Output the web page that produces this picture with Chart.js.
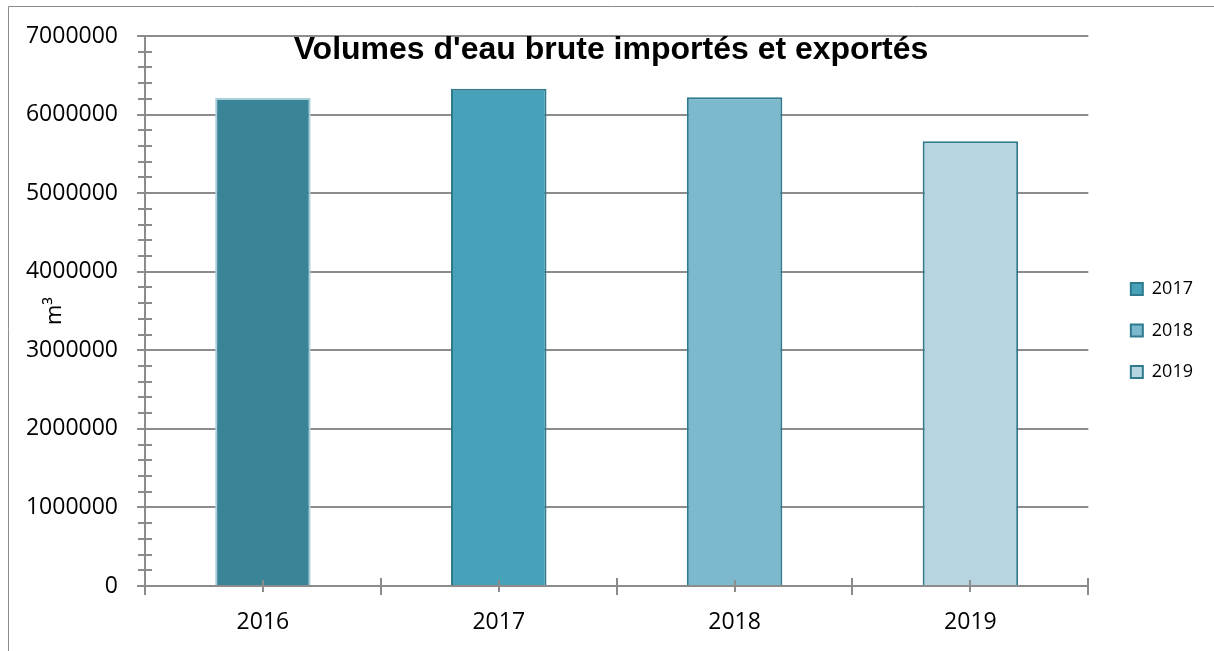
<!DOCTYPE html>
<html>
<head>
<meta charset="utf-8">
<title>Volumes d'eau brute importés et exportés</title>
<style>
  html, body { margin: 0; padding: 0; background: #ffffff; }
  #wrap { position: relative; width: 1214px; height: 651px; }
</style>
</head>
<body>
<div id="wrap"><canvas id="volumes"></canvas></div>
<script src="https://cdn.jsdelivr.net/npm/chart.js@4.4.0/dist/chart.umd.min.js"></script>
<script>
/* --------------- Data --------------------- */
const years = ["2016", "2017", "2018", "2019"];
const volumes = [6210000, 6330000, 6220000, 5660000];
const barColors = ["#3a8497", "#47a1b9", "#7cb9cf", "#b7d5e0"];
const barBorders = ["#a9d0da", "#2f7b8d", "#2f7b8d", "#2f7b8d"];
// the legend of the original only lists three entries
const legendYears = ["2017", "2018", "2019"];
const legendColors = ["#47a1b9", "#7cb9cf", "#b7d5e0"];
const yMax = 7000000;
const yMajor = 1000000;
const yMinor = 200000;

const gray = "#8c8c8c";
const isMajor = (v) => Math.round(v) % yMajor === 0;

/* --------------- Frame, title and tick marks --------------------- */
const excelLook = {
  id: "excelLook",
  afterLayout(chart) {
    // legend sits a bit further from the plot (and higher) than Chart.js puts it
    const lg = chart.legend;
    const w = lg.width;
    lg.left = chart.chartArea.right + 19;
    lg.right = lg.left + w;
    lg.top -= 13;
    lg.bottom -= 13;
  },
  beforeDraw(chart) {
    const ctx = chart.ctx;
    ctx.save();
    ctx.strokeStyle = gray;
    ctx.lineWidth = 1;
    ctx.beginPath();
    ctx.moveTo(8.5, chart.height);
    ctx.lineTo(8.5, 6.5);
    ctx.lineTo(chart.width, 6.5);
    ctx.stroke();
    ctx.restore();
  },
  afterDraw(chart) {
    const ctx = chart.ctx;
    const x = chart.scales.x;
    const y = chart.scales.y;
    const area = chart.chartArea;
    ctx.save();
    ctx.strokeStyle = gray;
    ctx.lineWidth = 2;
    ctx.beginPath();
    // minor ticks across the value axis
    y.ticks.forEach((t) => {
      if (isMajor(t.value)) return;
      const py = Math.round(y.getPixelForValue(t.value));
      ctx.moveTo(area.left - 7, py);
      ctx.lineTo(area.left + 7, py);
    });
    // category ticks: short ones at the centres, longer ones at the borders
    const step = (x.right - x.left) / years.length;
    years.forEach((_, i) => {
      const px = Math.round(x.getPixelForValue(i));
      ctx.moveTo(px, area.bottom - 6);
      ctx.lineTo(px, area.bottom + 6);
    });
    for (let i = 0; i <= years.length; i++) {
      const px = Math.round(x.left + i * step);
      ctx.moveTo(px, area.bottom - (i === 0 ? 0 : 8));
      ctx.lineTo(px, area.bottom + 9);
    }
    ctx.stroke();

    // title overlays the plot, like in the spreadsheet
    ctx.fillStyle = "#000000";
    ctx.font = "bold 32px 'Liberation Sans', Arial, sans-serif";
    ctx.textAlign = "center";
    ctx.textBaseline = "alphabetic";
    ctx.fillText("Volumes d'eau brute importés et exportés", 611, 59);
    ctx.restore();
  },
};

/* --------------- Chart --------------------- */
const volumeChart = new Chart(document.getElementById("volumes"), {
  type: "bar",
  plugins: [excelLook],
  data: {
    labels: years,
    datasets: [
      {
        data: volumes,
        backgroundColor: barColors,
        borderColor: barBorders,
        borderWidth: 2,
        categoryPercentage: 1,
        barPercentage: 0.405,
      },
    ],
  },
  options: {
    responsive: true,
    maintainAspectRatio: false,
    animation: false,
    layout: { padding: { top: 36, left: 8, right: 30, bottom: 0 } },
    scales: {
      x: {
        grid: { display: false, drawTicks: false },
        border: { display: true, color: gray, width: 2 },
        ticks: {
          color: "#000000",
          padding: 23,
          font: { family: "'Open Sans'", size: 23 },
        },
        afterFit(scale) {
          scale.height = 65;
        },
      },
      y: {
        min: 0,
        max: yMax,
        grid: {
          color: (c) => (isMajor(c.tick.value) ? gray : "rgba(0,0,0,0)"),
          lineWidth: 2,
          tickLength: 8,
        },
        border: { display: true, color: gray, width: 2 },
        ticks: {
          stepSize: yMinor,
          autoSkip: false,
          color: "#000000",
          padding: 19,
          font: { family: "'Open Sans'", size: 23 },
          callback: (v) => (isMajor(v) ? String(Math.round(v)) : ""),
        },
        title: {
          display: true,
          text: "m³",
          color: "#000000",
          padding: { top: 34, bottom: 0 },
          font: { family: "'Open Sans'", size: 22 },
        },
        afterFit(scale) {
          scale.width = 137;
        },
      },
    },
    plugins: {
      tooltip: { enabled: false },
      legend: {
        position: "right",
        labels: {
          boxWidth: 12,
          boxHeight: 12,
          padding: 23.5,
          color: "#000000",
          font: { family: "'Open Sans'", size: 18 },
          generateLabels: () =>
            legendYears.map((year, i) => ({
              text: year,
              fillStyle: legendColors[i],
              strokeStyle: "#2f7b8d",
              lineWidth: 2,
              hidden: false,
              index: i,
            })),
        },
      },
    },
  },
});
</script>
</body>
</html>
